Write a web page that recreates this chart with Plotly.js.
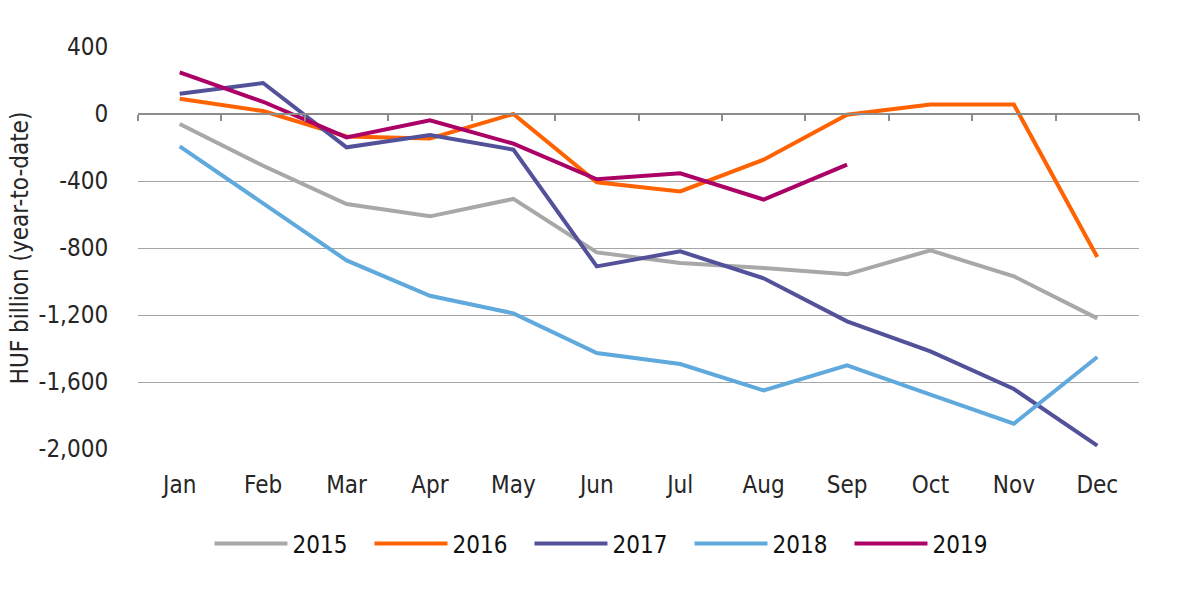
<!DOCTYPE html>
<html>
<head>
<meta charset="utf-8">
<script src="https://cdn.plot.ly/plotly-3.0.1.min.js"></script>
<style>html,body{margin:0;padding:0;background:#fff;}#chart{width:1191px;height:590px;}</style>
</head>
<body>
<div id="chart"></div>
<script>
const months = ["Jan","Feb","Mar","Apr","May","Jun","Jul","Aug","Sep","Oct","Nov","Dec"];
const y2015 = [-60, -309, -537, -611, -507, -826, -890, -919, -957, -814, -969, -1220];
const y2016 = [91, 18, -134, -146, 0, -408, -462, -273, -4, 56, 56, -854];
const y2017 = [121, 185, -199, -125, -213, -910, -820, -981, -1238, -1417, -1642, -1980];
const y2018 = [-193, -532, -874, -1085, -1190, -1427, -1493, -1650, -1500, -1676, -1849, -1451];
const y2019 = [248, 73, -140, -38, -177, -390, -354, -511, -302, null, null, null];
const seriesNames = ["2015","2016","2017","2018","2019"];
const seriesColors = ["#A8A8A8","#FF6200","#525199","#60A9DD","#AB0066"];
const seriesData = [y2015, y2016, y2017, y2018, y2019];

const FONT = "'DejaVu Sans Condensed', 'DejaVu Sans', sans-serif";
const TEXT = "#262626";

const traces = seriesData.map((ys, i) => ({
  type: "scatter", mode: "lines", x: months, y: ys, name: seriesNames[i],
  line: {color: seriesColors[i], width: 4}, connectgaps: false
}));
// helper trace on the zero-crossing category axis (invisible)
traces.unshift({
  type: "scatter", mode: "lines", x: months, y: months.map(() => 0),
  xaxis: "x2", showlegend: false, hoverinfo: "skip", line: {color: "rgba(0,0,0,0)", width: 0}
});

const layout = {
  width: 1191, height: 590,
  margin: {l: 138, r: 52, t: 47, b: 141},
  paper_bgcolor: "#fff", plot_bgcolor: "#fff",
  font: {family: FONT, size: 24, color: TEXT},
  showlegend: true,
  legend: {
    orientation: "h", x: 0.471, xanchor: "center", y: -0.236, yanchor: "middle",
    bgcolor: "rgba(0,0,0,0)",
    font: {family: FONT, size: 24, color: "#111"},
    entrywidth: 72, entrywidthmode: "pixels", itemwidth: 73,
    traceorder: "normal"
  },
  xaxis: {
    type: "category", categoryarray: months, range: [-0.5, 11.5],
    showgrid: false, zeroline: false, showline: false,
    ticks: "outside", ticklen: 14, tickcolor: "rgba(0,0,0,0)",
    tickfont: {family: FONT, size: 24, color: TEXT}
  },
  xaxis2: {
    type: "category", categoryarray: months, range: [-0.5, 11.5],
    overlaying: "x", anchor: "free", position: 2000/2400,
    showgrid: false, zeroline: false, showline: true, linecolor: "#8c8c8c", linewidth: 1.5,
    ticks: "outside", tickson: "boundaries", ticklen: 6, tickcolor: "#8c8c8c", tickwidth: 1.5,
    showticklabels: false
  },
  yaxis: {
    range: [-2000, 400], tickvals: [-2000,-1600,-1200,-800,-400,0,400],
    ticktext: ["-2,000","-1,600","-1,200","-800","-400","0","400"],
    showgrid: true, gridcolor: "#A6A6A6", gridwidth: 1, zeroline: false, showline: false,
    ticks: "outside", ticklen: 24, tickcolor: "rgba(0,0,0,0)",
    tickfont: {family: FONT, size: 24, color: TEXT},
    title: {text: "HUF billion (year-to-date)", font: {family: FONT, size: 24, color: TEXT}, standoff: 3}
  }
};

Plotly.newPlot("chart", traces, layout, {displayModeBar: false, responsive: false});
</script>
</body>
</html>
